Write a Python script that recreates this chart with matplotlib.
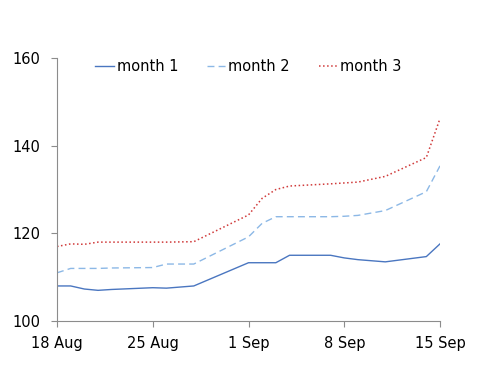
"""
    three months index comparison, 18 Aug - 15 Sep
"""

import datetime as dt
import matplotlib
matplotlib.use('Agg')
import matplotlib.pyplot as plt

start = dt.date(2014, 8, 18)
day_offsets = [0, 1, 2, 3, 4, 7, 8, 10, 14, 15, 16, 17, 20, 21, 22, 24, 27, 28]
dates = [start + dt.timedelta(days=d) for d in day_offsets]

month1 = [108.0, 108.0, 107.3, 107.0, 107.2, 107.6, 107.5, 108.0, 113.3, 113.3,
          113.3, 115.0, 115.0, 114.4, 114.0, 113.5, 114.7, 117.6]
month2 = [111.0, 112.0, 112.0, 112.0, 112.1, 112.2, 113.0, 113.0, 119.2, 122.3,
          123.8, 123.8, 123.8, 123.9, 124.1, 125.2, 129.5, 135.4]
month3 = [117.0, 117.6, 117.5, 118.0, 118.0, 118.0, 118.0, 118.1, 124.2, 128.0,
          130.0, 130.8, 131.3, 131.5, 131.7, 133.0, 137.3, 146.2]

tick_dates = [start + dt.timedelta(days=d) for d in [0, 7, 14, 21, 28]]
tick_labels = ['18 Aug', '25 Aug', '1 Sep', '8 Sep', '15 Sep']

plt.rcParams['font.family'] = ['DejaVu Sans']
plt.rcParams['font.size'] = 10.5

fig = plt.figure(figsize=(5, 3.87), dpi=100)
ax = fig.add_axes([0.114, 0.1705, 0.766, 0.6795])

ax.plot(dates, month1, '-', color='#4A76C0', lw=1.0, label='month 1')
ax.plot(dates, month2, '--', color='#8CB8E6', lw=1.0, dashes=(5, 3), label='month 2')
ax.plot(dates, month3, ':', color='#D03A3A', lw=1.1, label='month 3')

ax.set_xlim(tick_dates[0], tick_dates[-1])
ax.set_ylim(100, 160)
ax.set_yticks([100, 120, 140, 160])
ax.set_xticks(tick_dates)
ax.set_xticklabels(tick_labels)

for side in ['top', 'right']:
    ax.spines[side].set_visible(False)
for side in ['left', 'bottom']:
    ax.spines[side].set_color('#8c8c8c')
ax.tick_params(direction='out', length=4, color='#8c8c8c')
ax.tick_params(axis='x', pad=6.5)
ax.tick_params(axis='y', pad=8)

ax.legend(loc='upper center', bbox_to_anchor=(0.5, 1.045), ncol=3, frameon=False,
          handlelength=1.3, handletextpad=0.15, columnspacing=2.0)

plt.savefig('out.png')
